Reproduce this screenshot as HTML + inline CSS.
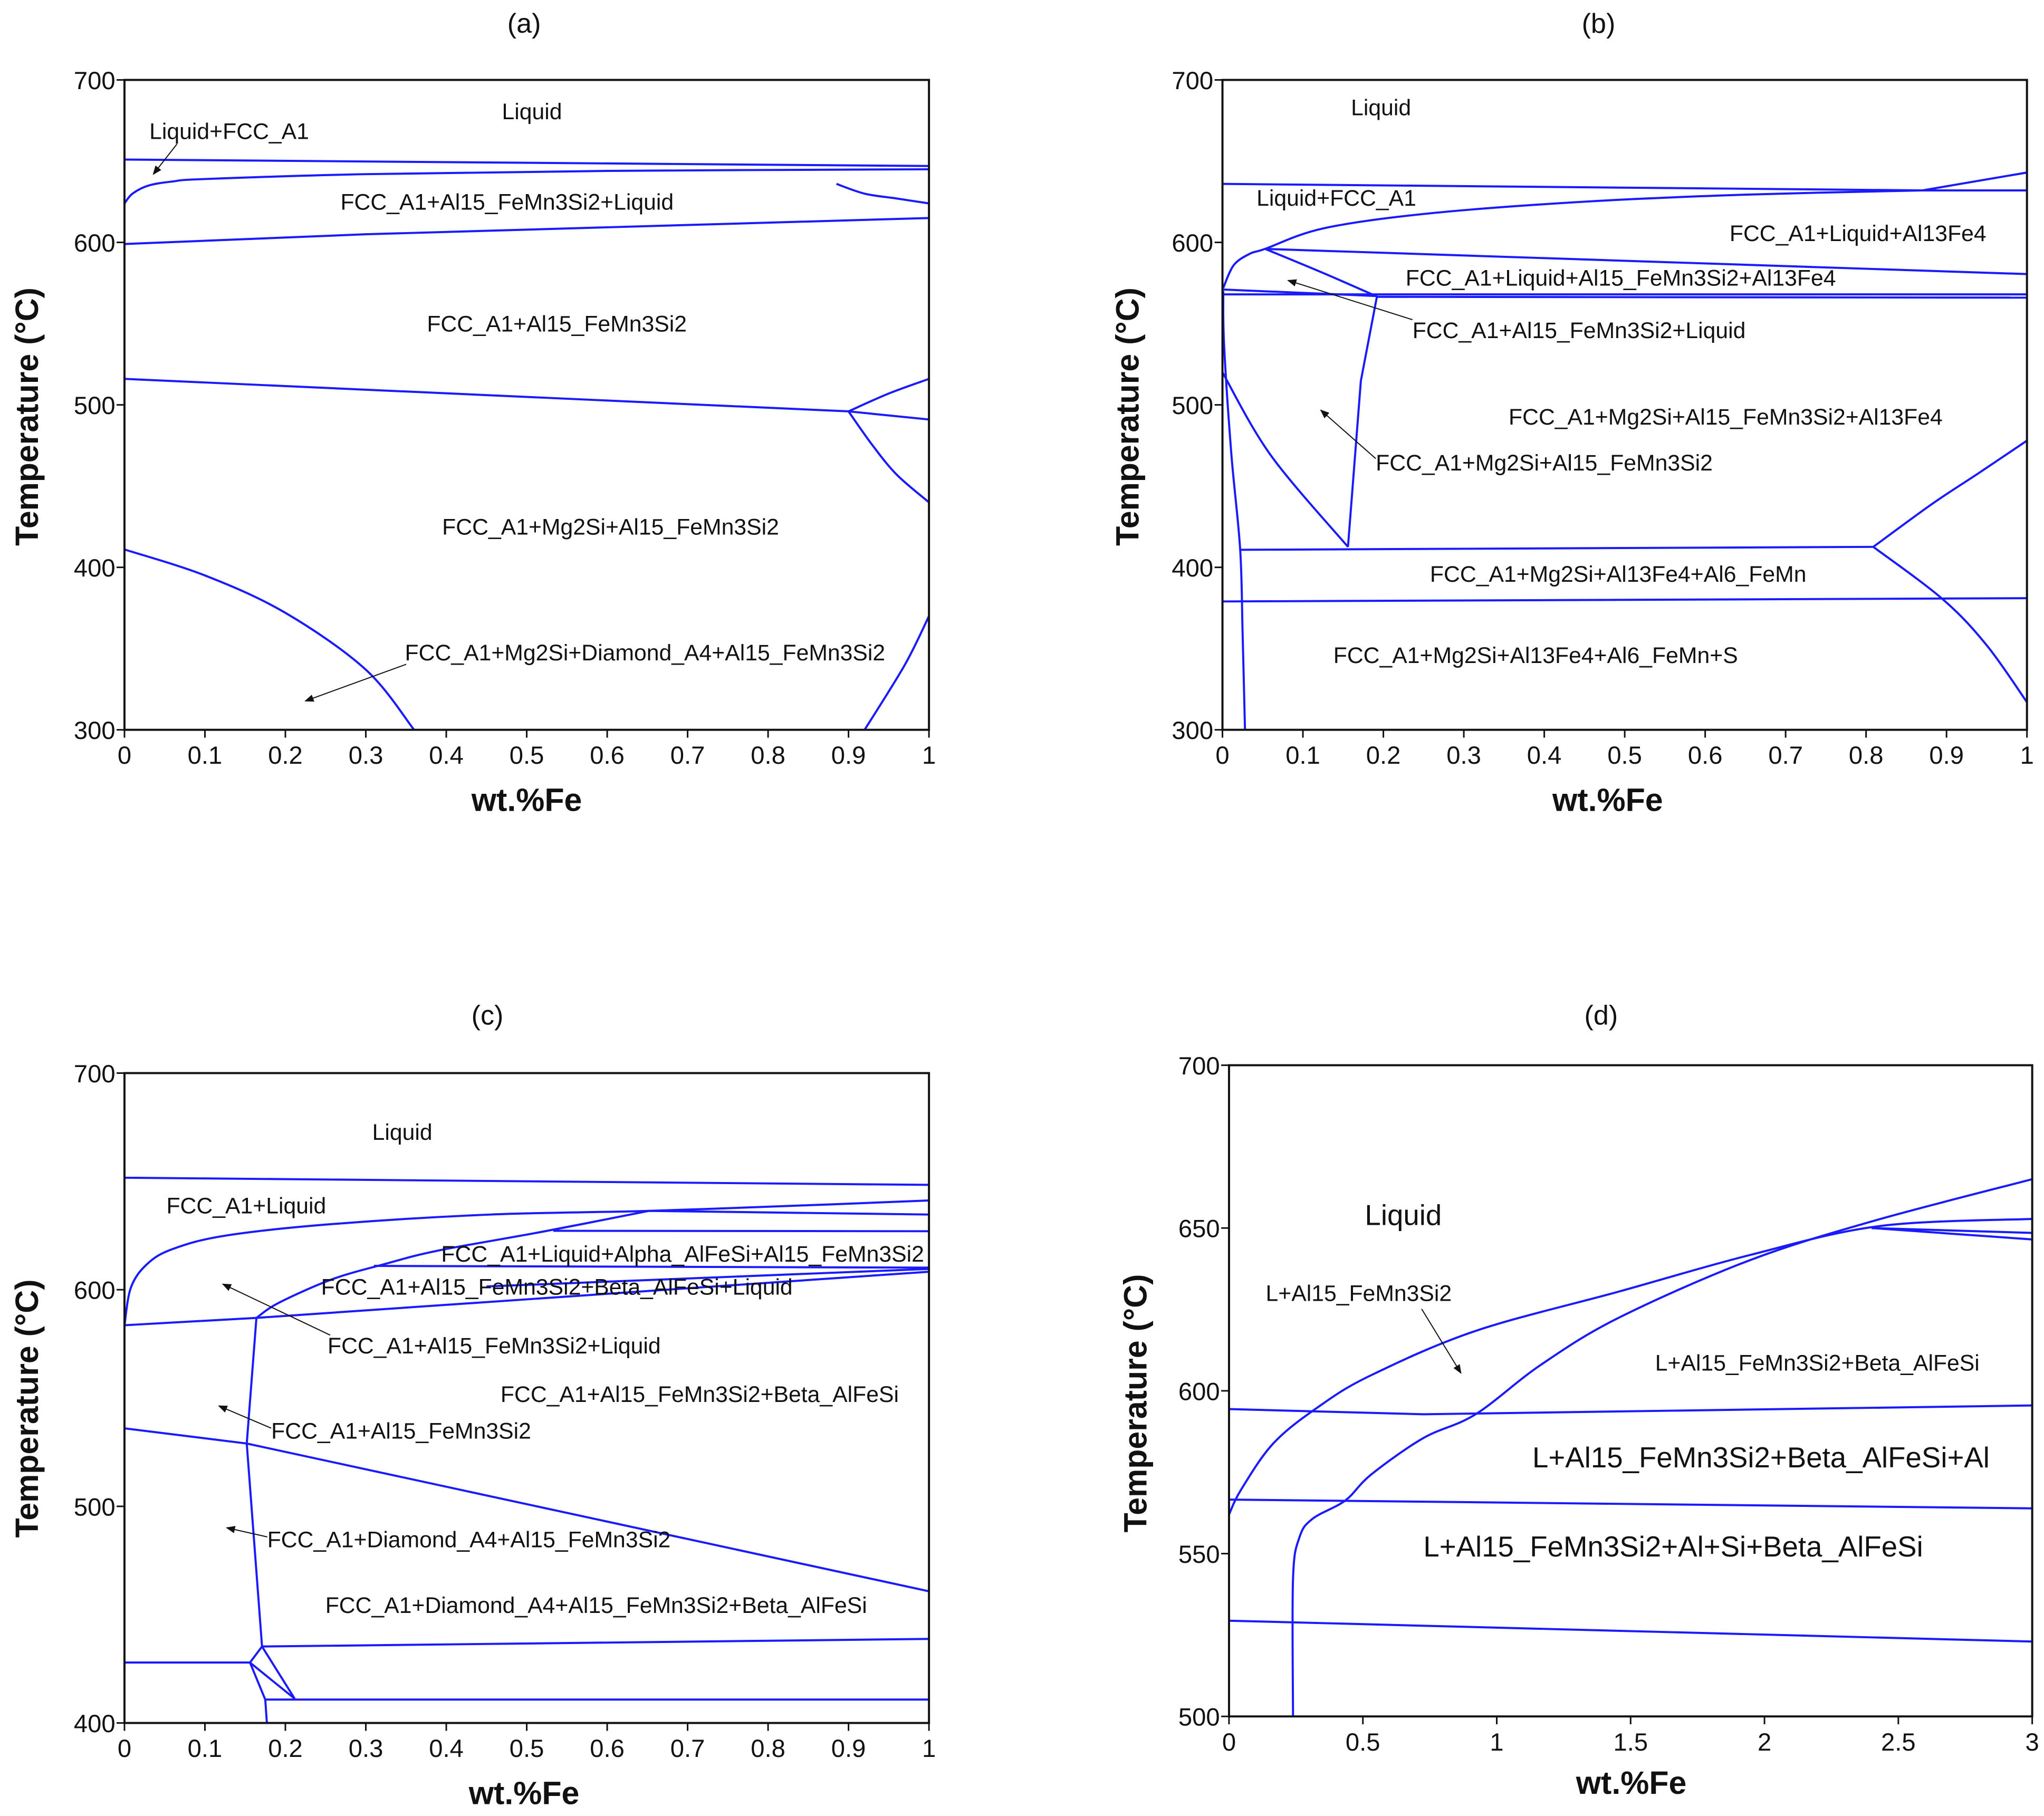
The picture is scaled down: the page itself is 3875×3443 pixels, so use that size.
<!DOCTYPE html>
<html><head><meta charset="utf-8"><style>
html,body{margin:0;padding:0;background:#fff}
svg{display:block}
text{font-family:"Liberation Sans",sans-serif;fill:#111}
.lbl{font-size:17.2px}
.big{font-size:22px}
.tick{font-size:19px}
.ttl{font-size:24.5px;font-weight:bold}
.pt{font-size:21px}
</style></head><body>
<svg id="fig" xmlns="http://www.w3.org/2000/svg" width="3875" height="3443" viewBox="0 0 1560 1386" preserveAspectRatio="none">
<defs><marker id="ah" viewBox="0 0 10 10" refX="9" refY="5" markerWidth="9" markerHeight="7" orient="auto" markerUnits="userSpaceOnUse"><path d="M0,1 L10,5 L0,9 z" fill="#111"/></marker></defs>
<g id="layer"></g>
<text class="pt" x="400" y="25" text-anchor="middle">(a)</text>
<text class="pt" x="1220" y="25" text-anchor="middle">(b)</text>
<text class="pt" x="372" y="782" text-anchor="middle">(c)</text>
<text class="pt" x="1222" y="782" text-anchor="middle">(d)</text>
<g>
<text class="lbl" x="406" y="91" text-anchor="middle">Liquid</text>
<text class="lbl" x="114" y="106">Liquid+FCC_A1</text>
<line x1="135" y1="110" x2="117" y2="133" stroke="#111" stroke-width="0.8" marker-end="url(#ah)"/>
<text class="lbl" x="387" y="160" text-anchor="middle">FCC_A1+Al15_FeMn3Si2+Liquid</text>
<text class="lbl" x="425" y="253" text-anchor="middle">FCC_A1+Al15_FeMn3Si2</text>
<text class="lbl" x="466" y="408" text-anchor="middle">FCC_A1+Mg2Si+Al15_FeMn3Si2</text>
<text class="lbl" x="309" y="504">FCC_A1+Mg2Si+Diamond_A4+Al15_FeMn3Si2</text>
<line x1="310" y1="507" x2="233" y2="535" stroke="#111" stroke-width="0.8" marker-end="url(#ah)"/>
</g>
<g>
<text class="lbl" x="1054" y="88" text-anchor="middle">Liquid</text>
<text class="lbl" x="959" y="157">Liquid+FCC_A1</text>
<text class="lbl" x="1418" y="184" text-anchor="middle">FCC_A1+Liquid+Al13Fe4</text>
<text class="lbl" x="1237" y="218" text-anchor="middle">FCC_A1+Liquid+Al15_FeMn3Si2+Al13Fe4</text>
<text class="lbl" x="1078" y="258">FCC_A1+Al15_FeMn3Si2+Liquid</text>
<line x1="1078" y1="244" x2="983" y2="214" stroke="#111" stroke-width="0.8" marker-end="url(#ah)"/>
<text class="lbl" x="1317" y="324" text-anchor="middle">FCC_A1+Mg2Si+Al15_FeMn3Si2+Al13Fe4</text>
<text class="lbl" x="1050" y="359">FCC_A1+Mg2Si+Al15_FeMn3Si2</text>
<line x1="1050" y1="350" x2="1008" y2="313" stroke="#111" stroke-width="0.8" marker-end="url(#ah)"/>
<text class="lbl" x="1235" y="444" text-anchor="middle">FCC_A1+Mg2Si+Al13Fe4+Al6_FeMn</text>
<text class="lbl" x="1172" y="506" text-anchor="middle">FCC_A1+Mg2Si+Al13Fe4+Al6_FeMn+S</text>
</g>
<g>
<text class="lbl" x="307" y="870" text-anchor="middle">Liquid</text>
<text class="lbl" x="127" y="926">FCC_A1+Liquid</text>
<text class="lbl" x="521" y="963" text-anchor="middle">FCC_A1+Liquid+Alpha_AlFeSi+Al15_FeMn3Si2</text>
<text class="lbl" x="425" y="988" text-anchor="middle">FCC_A1+Al15_FeMn3Si2+Beta_AlFeSi+Liquid</text>
<text class="lbl" x="250" y="1033">FCC_A1+Al15_FeMn3Si2+Liquid</text>
<line x1="252" y1="1019" x2="170" y2="980" stroke="#111" stroke-width="0.8" marker-end="url(#ah)"/>
<text class="lbl" x="534" y="1070" text-anchor="middle">FCC_A1+Al15_FeMn3Si2+Beta_AlFeSi</text>
<text class="lbl" x="207" y="1098">FCC_A1+Al15_FeMn3Si2</text>
<line x1="207" y1="1090" x2="167" y2="1073" stroke="#111" stroke-width="0.8" marker-end="url(#ah)"/>
<text class="lbl" x="204" y="1181">FCC_A1+Diamond_A4+Al15_FeMn3Si2</text>
<line x1="204" y1="1173" x2="173" y2="1166" stroke="#111" stroke-width="0.8" marker-end="url(#ah)"/>
<text class="lbl" x="455" y="1231" text-anchor="middle">FCC_A1+Diamond_A4+Al15_FeMn3Si2+Beta_AlFeSi</text>
</g>
<g>
<text class="big" x="1071" y="935" text-anchor="middle">Liquid</text>
<text class="lbl" x="966" y="993">L+Al15_FeMn3Si2</text>
<line x1="1085" y1="999" x2="1115" y2="1048" stroke="#111" stroke-width="0.8" marker-end="url(#ah)"/>
<text class="lbl" x="1387" y="1046" text-anchor="middle">L+Al15_FeMn3Si2+Beta_AlFeSi</text>
<text class="big" x="1344" y="1120" text-anchor="middle">L+Al15_FeMn3Si2+Beta_AlFeSi+Al</text>
<text class="big" x="1277" y="1188" text-anchor="middle">L+Al15_FeMn3Si2+Al+Si+Beta_AlFeSi</text>
</g>
</svg>
<script>
// ---- tick label arrays ----
const xTicks01 = ["0","0.1","0.2","0.3","0.4","0.5","0.6","0.7","0.8","0.9","1"];
const xTicks03 = ["0","0.5","1","1.5","2","2.5","3"];
const yTicksA = ["300","400","500","600","700"];
const yTicksC = ["400","500","600","700"];
const yTicksD = ["500","550","600","650","700"];

// ---- panel (a) boundaries [wt.%Fe, T] ----
const aLiquidus = [[0,651],[1,647]];
const aCurve1 = [[0,624],[0.01,630],[0.03,635],[0.06,637.5],[0.1,639],[0.3,642],[0.6,644],[1,645]];
const aLine600 = [[0,599],[0.3,605],[1,615]];
const aSmall = [[0.885,636],[0.92,630],[0.96,627],[1,624]];
const aLine516 = [[0,516],[0.9,496],[1,491]];
const aUpBranch = [[0.9,496],[0.95,507],[1,516]];
const aDownBranch = [[0.9,496],[0.93,475],[0.96,457],[1,440]];
const aCurveLow = [[0,411],[0.1,395],[0.2,372],[0.3,337],[0.36,300]];
const aRightLow = [[0.92,300],[0.97,340],[1,370]];

// ---- panel (b) ----
const bLiquidus = [[0,636],[0.87,632],[1,632]];
const bRise = [[0.87,632],[1,643]];
const bCurve = [[0.001,572],[0.014,586],[0.034,593],[0.053,596],[0.126,608.7],[0.258,617.9],[0.455,625.2],[0.652,629.4],[0.87,632]];
const bLine596 = [[0.053,596],[1,580.5]];
const bDiag = [[0.053,596],[0.126,581],[0.192,566.7]];
const bLine571 = [[0,571],[0.192,567]];
const bLine568 = [[0,568],[1,568]];
const bLine566 = [[0.192,566.5],[1,566]];
const bV1 = [[0.192,566.7],[0.172,514.7],[0.156,412.6]];
const bV2 = [[0,520],[0.06,469],[0.156,412.6]];
const bVert = [[0.001,570],[0.002,537],[0.011,470],[0.022,411],[0.025,360],[0.028,300]];
const bLine412 = [[0.022,410.8],[0.809,412.6]];
const bUp = [[0.809,412.6],[0.882,439],[0.94,458],[1,478]];
const bDown = [[0.809,412.6],[0.895,380.5],[0.95,352],[1,317]];
const bLine380 = [[0,379],[1,381]];

// ---- panel (c) ----
const cLiquidus = [[0,651.7],[1,648.4]];
const cCurveTop = [[0,583.6],[0.008,601],[0.028,611.8],[0.06,618.8],[0.126,625],[0.258,630.3],[0.455,634.7],[0.652,636.4],[0.85,639],[1,641.2]];
const cLine635 = [[0.652,636.4],[1,634.7]];
const cCurve2 = [[0.164,587],[0.192,594],[0.258,604.8],[0.323,611.8],[0.389,618],[0.52,626.8],[0.652,636.4]];
const cLine627 = [[0.533,627.2],[1,627]];
const cLine610 = [[0.31,611],[1,610.2]];
const cLineA = [[0,583.6],[0.164,587],[1,608.3]];
const cLineB = [[0.45,601.5],[1,609.6]];
const cLine536 = [[0,536],[0.152,529],[1,460.8]];
const cVert = [[0.164,587],[0.152,529],[0.171,435.3]];
const cLine438 = [[0.171,435.3],[1,438.8]];
const cLine428 = [[0,427.9],[0.156,427.9]];
const cSeg1 = [[0.156,427.9],[0.171,435.3]];
const cSeg2 = [[0.156,427.9],[0.2116,411.2]];
const cSeg3 = [[0.171,435.3],[0.2116,411.2]];
const cSeg4 = [[0.156,427.9],[0.175,410.8]];
const cLine411 = [[0.175,410.8],[1,410.8]];
const cSeg5 = [[0.175,410.8],[0.177,400]];

// ---- panel (d) ----
const dCurve1 = [[0,562],[0.044,569.5],[0.166,583.9],[0.336,595.2],[0.531,604.8],[0.921,618.4],[1.457,630.5],[1.945,641.7],[2.43,650.6],[3,652.8]];
const dCurve2 = [[0.239,500],[0.239,542.2],[0.263,555],[0.312,560.7],[0.434,566.3],[0.531,574.3],[0.726,585.5],[0.921,592.8],[1.165,608],[1.457,622.5],[1.945,640.1],[2.408,652.2],[3,665]];
const dTop2 = [[2.4,650],[3,648.5]];
const dTop3 = [[2.4,650],[3,646.5]];
const dLine595 = [[0,594.4],[0.726,592.8],[3,595.5]];
const dLine566 = [[0,566.6],[3,563.9]];
const dLine529 = [[0,529.4],[3,523]];

const smooth = new Set([aCurve1,aSmall,aUpBranch,aDownBranch,aCurveLow,aRightLow,bCurve,bDiag,bV2,bVert,bUp,bDown,cCurveTop,cCurve2,dCurve1,dCurve2]);

const panels = [
 {id:"a", x0:95, x1:709, y0:61, y1:557, xmin:0, xmax:1, tmin:300, tmax:700, xt:xTicks01, yt:yTicksA,
  title:[20,309], xlab:[402,619],
  curves:[aLiquidus,aCurve1,aLine600,aSmall,aLine516,aUpBranch,aDownBranch,aCurveLow,aRightLow]},
 {id:"b", x0:933, x1:1547, y0:61, y1:557, xmin:0, xmax:1, tmin:300, tmax:700, xt:xTicks01, yt:yTicksA,
  title:[860,309], xlab:[1227,619],
  curves:[bLiquidus,bRise,bCurve,bLine596,bDiag,bLine571,bLine568,bLine566,bV1,bV2,bVert,bLine412,bUp,bDown,bLine380]},
 {id:"c", x0:95, x1:709, y0:819, y1:1315, xmin:0, xmax:1, tmin:400, tmax:700, xt:xTicks01, yt:yTicksC,
  title:[20,1066], xlab:[400,1377],
  curves:[cLiquidus,cCurveTop,cLine635,cCurve2,cLine627,cLine610,cLineA,cLineB,cLine536,cVert,cLine438,cLine428,cSeg1,cSeg2,cSeg3,cSeg4,cLine411,cSeg5]},
 {id:"d", x0:938, x1:1551, y0:813, y1:1310, xmin:0, xmax:3, tmin:500, tmax:700, xt:xTicks03, yt:yTicksD,
  title:[866,1062], xlab:[1245,1369],
  curves:[dCurve1,dCurve2,dTop2,dTop3,dLine595,dLine566,dLine529]}
];

const NS="http://www.w3.org/2000/svg";
const layer=document.getElementById("layer");
function mk(tag,attrs,parent){const e=document.createElementNS(NS,tag);for(const k in attrs)e.setAttribute(k,attrs[k]);parent.appendChild(e);return e;}
function pathD(pts,sm){
  if(!sm||pts.length<3) return pts.map((p,j)=>(j?"L":"M")+p[0].toFixed(2)+","+p[1].toFixed(2)).join(" ");
  let d="M"+pts[0][0].toFixed(2)+","+pts[0][1].toFixed(2);
  for(let i=0;i<pts.length-1;i++){
    const p0=pts[Math.max(0,i-1)],p1=pts[i],p2=pts[i+1],p3=pts[Math.min(pts.length-1,i+2)];
    const c1=[p1[0]+(p2[0]-p0[0])/6,p1[1]+(p2[1]-p0[1])/6];
    const c2=[p2[0]-(p3[0]-p1[0])/6,p2[1]-(p3[1]-p1[1])/6];
    d+=" C"+c1[0].toFixed(2)+","+c1[1].toFixed(2)+" "+c2[0].toFixed(2)+","+c2[1].toFixed(2)+" "+p2[0].toFixed(2)+","+p2[1].toFixed(2);
  }
  return d;
}

panels.forEach(p=>{
  const sx=v=>p.x0+(v-p.xmin)/(p.xmax-p.xmin)*(p.x1-p.x0);
  const sy=t=>p.y1-(t-p.tmin)/(p.tmax-p.tmin)*(p.y1-p.y0);
  const g=mk("g",{},layer);
  
  
  const clipId="clip"+p.id;
  const cp=mk("clipPath",{id:clipId},g);
  mk("rect",{x:p.x0,y:p.y0,width:p.x1-p.x0,height:p.y1-p.y0},cp);
  const cg=mk("g",{"clip-path":"url(#"+clipId+")"},g);
  p.curves.forEach((c,i)=>{
    const pts=c.map(pt=>[sx(pt[0]),sy(pt[1])]);
    const path=mk("path",{d:pathD(pts,smooth.has(c)),fill:"none",stroke:"#1a1aff","stroke-width":"1.6","stroke-linejoin":"round"},cg);
    
    
  });
  const fr=mk("rect",{x:p.x0,y:p.y0,width:p.x1-p.x0,height:p.y1-p.y0,fill:"none",stroke:"#111","stroke-width":"1.6"},g);
  
  
  p.xt.forEach(t=>{
    const x=sx(parseFloat(t));
    mk("line",{x1:x,y1:p.y1,x2:x,y2:p.y1+6,stroke:"#111","stroke-width":"1.2"},g);
    const tx=mk("text",{x:x,y:p.y1+26,"text-anchor":"middle","class":"tick"},g);
    tx.textContent=t;
    
    
  });
  p.yt.forEach(t=>{
    const y=sy(parseFloat(t));
    mk("line",{x1:p.x0-6,y1:y,x2:p.x0,y2:y,stroke:"#111","stroke-width":"1.2"},g);
    const tx=mk("text",{x:p.x0-7,y:y+7,"text-anchor":"end","class":"tick"},g);
    tx.textContent=t;
    
    
  });
  const yl=mk("text",{x:p.title[0],y:p.title[1],"text-anchor":"middle","class":"ttl",transform:"rotate(-90 "+(p.title[0]+9)+" "+p.title[1]+")"},g);
  yl.textContent="Temperature (°C)";
  
  
  const xl=mk("text",{x:p.xlab[0],y:p.xlab[1],"text-anchor":"middle","class":"ttl"},g);
  xl.textContent="wt.%Fe";
  
  
});
</script>
</body></html>
